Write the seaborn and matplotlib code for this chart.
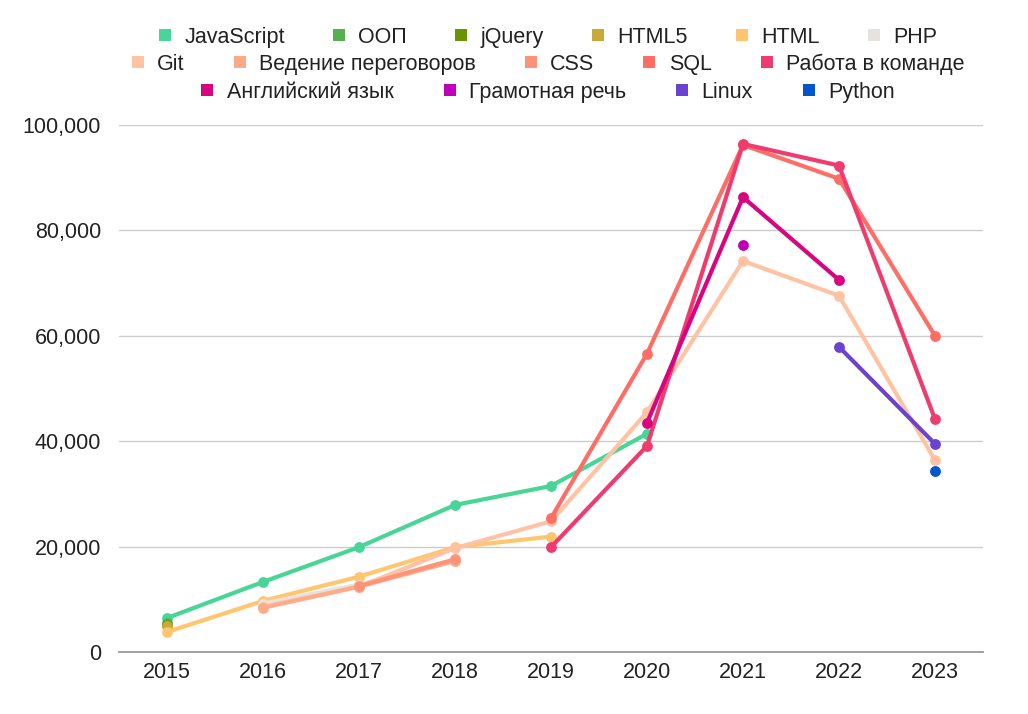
import matplotlib
matplotlib.use("Agg")
import matplotlib.pyplot as plt
import seaborn as sns
import pandas as pd
import numpy as np
from matplotlib.lines import Line2D
from matplotlib.ticker import FuncFormatter

years = [2015, 2016, 2017, 2018, 2019, 2020, 2021, 2022, 2023]
N = np.nan

skills = ["JavaScript", "ООП", "jQuery", "HTML5", "HTML", "PHP",
          "Git", "Ведение переговоров", "CSS", "SQL", "Работа в команде",
          "Английский язык", "Грамотная речь", "Linux", "Python"]

colors = ["#48d597", "#57b04e", "#6b9500", "#c9a93a", "#ffc56f", "#e6e2de",
          "#ffc3a4", "#ffab8a", "#ff9378", "#ff6e66", "#ef3b6d",
          "#d9047f", "#c000b8", "#6a43d0", "#0057cc"]

javascript = [6450, 13300, 19900, 27900, 31500, 41400, N, N, N]
oop        = [5600, N, N, N, N, N, N, N, N]
jquery     = [5100, N, N, N, N, N, N, N, N]
html5      = [5000, N, N, N, N, N, N, N, N]
html       = [3800, 9700, 14300, 19900, 21900, N, N, N, N]
php        = [N, 9200, 12800, 17200, N, N, N, N, N]
git        = [N, 8600, 12400, 19700, 24800, 45500, 74200, 67600, 36400]
vedenie    = [N, 8400, 12400, 17300, N, N, N, N, N]
css        = [N, N, 12500, 17600, N, N, N, N, N]
sql        = [N, N, N, N, 25400, 56600, 96200, 89800, 60000]
rabota     = [N, N, N, N, 19900, 39100, 96400, 92300, 44200]
english    = [N, N, N, N, N, 43500, 86300, 70600, N]
gramotnaya = [N, N, N, N, N, N, 77200, N, N]
linux      = [N, N, N, N, N, N, N, 57900, 39500]
python     = [N, N, N, N, N, N, N, N, 34300]

series = [javascript, oop, jquery, html5, html, php, git, vedenie, css,
          sql, rabota, english, gramotnaya, linux, python]

rows = []
for name, vals in zip(skills, series):
    for y, v in zip(years, vals):
        if not np.isnan(v):
            rows.append({"year": y, "value": v, "skill": name})
df = pd.DataFrame(rows)

sns.set_theme(style="white")
plt.rcParams["font.family"] = ["Liberation Sans", "DejaVu Sans"]

fig = plt.figure(figsize=(10.28, 7.14), dpi=100)
ax = fig.add_axes([0.1158, 0.0868, 0.8404, 0.7382])

palette = dict(zip(skills, colors))
sns.lineplot(data=df, x="year", y="value", hue="skill", hue_order=skills,
             palette=palette, marker="o", markersize=7.8, markeredgewidth=0,
             linewidth=3, legend=False, ax=ax, sort=True)

ax.set_xlim(2014.5, 2023.5)
ax.set_ylim(0, 100000)
ax.set_xticks(years)
ax.set_xticklabels([str(y) for y in years])
ax.set_yticks([0, 20000, 40000, 60000, 80000, 100000])
ax.yaxis.set_major_formatter(FuncFormatter(lambda v, p: f"{int(v):,}"))
ax.grid(axis="y", color="#cccccc", linewidth=1)
ax.set_axisbelow(True)
ax.set_xlabel("")
ax.set_ylabel("")
for s in ["left", "right", "top"]:
    ax.spines[s].set_visible(False)
ax.spines["bottom"].set_color("#999999")
ax.spines["bottom"].set_linewidth(1.3)
ax.tick_params(axis="both", length=0, labelsize=15.5, colors="#222222")
ax.tick_params(axis="y", pad=13)
ax.tick_params(axis="x", pad=7)

row_defs = [(skills[0:6], 0.948, 2.12), (skills[6:11], 0.910, 2.15),
            (skills[11:15], 0.871, 2.2)]
for names, yfrac, cs in row_defs:
    handles = [Line2D([], [], marker="s", linestyle="None", markersize=9,
                      markeredgewidth=0, color=palette[n]) for n in names]
    leg = fig.legend(handles, names, loc="center", bbox_to_anchor=(0.532, yfrac),
                     ncol=len(names), frameon=False, fontsize=15.5,
                     handlelength=0.8, handletextpad=0.5, columnspacing=cs,
                     borderaxespad=0, borderpad=0)
    for t in leg.get_texts():
        t.set_color("#222222")

fig.savefig("out.png", dpi=100)
